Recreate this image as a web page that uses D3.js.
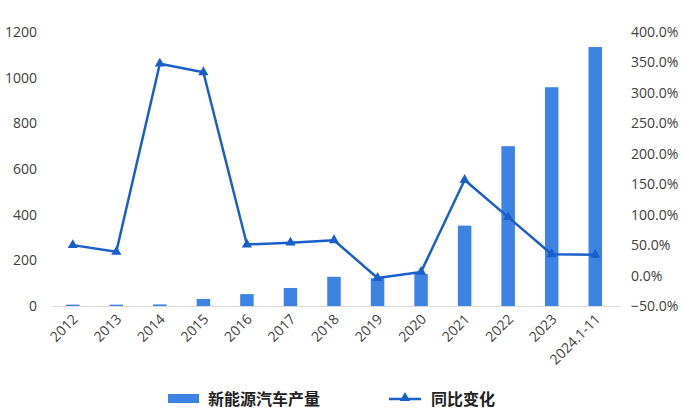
<!DOCTYPE html>
<meta charset="utf-8">
<style>
body { margin: 0; background: #fff; }
.tick text { font-family: "Open Sans", "Noto Sans", sans-serif; font-size: 14px; fill: #404040; }
</style>
<svg width="690" height="416"></svg>
<script src="https://d3js.org/d3.v7.min.js"></script>
<script>
// 新能源汽车产量 (万辆) and year-on-year change
var years = ["2012", "2013", "2014", "2015", "2016", "2017", "2018", "2019", "2020", "2021", "2022", "2023", "2024.1-11"];
var output = [6, 6, 7, 31, 52, 79, 128, 122, 140, 352, 700, 958, 1134];
var growth = [0.50, 0.39, 3.48, 3.34, 0.51, 0.54, 0.58, -0.04, 0.06, 1.57, 0.96, 0.35, 0.34];
var leftTicks = [0, 200, 400, 600, 800, 1000, 1200];
var rightTicks = [-0.5, 0, 0.5, 1, 1.5, 2, 2.5, 3, 3.5, 4];

var barColor = "#3d83e3",
    lineColor = "#1a5fc9";

var svg = d3.select("svg"),
    margin = {top: 32, right: 74, bottom: 110, left: 51},
    width = +svg.attr("width") - margin.left - margin.right,
    height = +svg.attr("height") - margin.top - margin.bottom,
    g = svg.append("g").attr("transform", "translate(" + margin.left + "," + margin.top + ")");

var x = d3.scaleBand()
    .domain(years)
    .range([0, 566])
    .paddingInner(0.69)
    .paddingOuter(0.345);

var y = d3.scaleLinear().domain([0, 1200]).range([height, 0]);
var y2 = d3.scaleLinear().domain([-0.5, 4]).range([height, 0]);

// axis line
g.append("line")
    .attr("x1", 1).attr("x2", 569)
    .attr("y1", height + 0.5).attr("y2", height + 0.5)
    .attr("stroke", "#d9d9d9");

// left axis
var ax = g.append("g")
    .call(d3.axisLeft(y).tickValues(leftTicks).tickSize(0).tickPadding(14).tickFormat(d3.format("d")));
ax.select(".domain").remove();

// right axis
var ax2 = g.append("g")
    .attr("transform", "translate(" + width + ",0)")
    .call(d3.axisRight(y2).tickValues(rightTicks).tickSize(0).tickPadding(15).tickFormat(d3.format(".1%")));
ax2.select(".domain").remove();

// bars
g.selectAll(".bar")
    .data(years)
    .enter().append("rect")
      .attr("class", "bar")
      .attr("x", function(d) { return x(d); })
      .attr("width", x.bandwidth())
      .attr("y", function(d, i) { return y(output[i]); })
      .attr("height", function(d, i) { return height - y(output[i]); })
      .attr("fill", barColor);

// x labels
g.selectAll(".xl")
    .data(years)
    .enter().append("text")
      .attr("class", "xl")
      .attr("transform", function(d) { return "translate(" + (x(d) + x.bandwidth() / 2 + 6) + "," + (height + 14) + ") rotate(-45)"; })
      .attr("text-anchor", "end")
      .attr("font-family", "'Open Sans', 'Noto Sans', sans-serif")
      .attr("font-size", 14)
      .attr("fill", "#404040")
      .text(function(d) { return d; });

// growth line
var line = d3.line()
    .x(function(d, i) { return x(years[i]) + x.bandwidth() / 2; })
    .y(function(d) { return y2(d); });

g.append("path")
    .datum(growth)
    .attr("fill", "none")
    .attr("stroke", lineColor)
    .attr("stroke-width", 2.5)
    .attr("stroke-linejoin", "round")
    .attr("d", line);

var tri = d3.symbol().type(d3.symbolTriangle).size(45);
g.selectAll(".pt")
    .data(growth)
    .enter().append("path")
      .attr("class", "pt")
      .attr("transform", function(d, i) { return "translate(" + (x(years[i]) + x.bandwidth() / 2) + "," + y2(d) + ")"; })
      .attr("d", tri)
      .attr("fill", lineColor);

// legend
var legend = svg.append("g")
    .attr("font-family", "'Noto Sans CJK SC', sans-serif")
    .attr("font-size", 16)
    .attr("font-weight", "bold")
    .attr("fill", "#222");

legend.append("rect")
    .attr("x", 168).attr("y", 394)
    .attr("width", 31).attr("height", 9)
    .attr("fill", barColor);
legend.append("text")
    .attr("x", 208).attr("y", 399).attr("dy", "0.35em")
    .text("新能源汽车产量");

legend.append("line")
    .attr("x1", 389).attr("x2", 421)
    .attr("y1", 399).attr("y2", 399)
    .attr("stroke", lineColor).attr("stroke-width", 2.5);
legend.append("path")
    .attr("transform", "translate(405,398)")
    .attr("d", tri)
    .attr("fill", lineColor);
legend.append("text")
    .attr("x", 431).attr("y", 399).attr("dy", "0.35em")
    .text("同比变化");
</script>
